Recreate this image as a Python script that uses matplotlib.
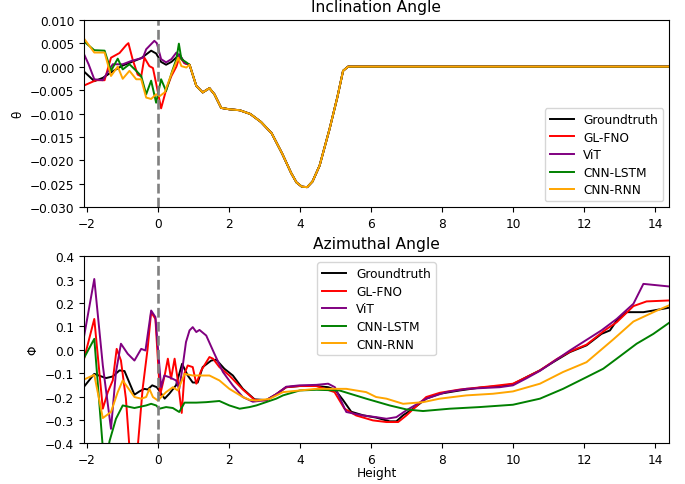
import numpy as np
import matplotlib
matplotlib.use("Agg")
import matplotlib.pyplot as plt

plt.rcParams['font.size'] = 8.7
plt.rcParams['axes.titlesize'] = 11.2
plt.rcParams['legend.labelspacing'] = 0.38

labels = ['Groundtruth', 'GL-FNO', 'ViT', 'CNN-LSTM', 'CNN-RNN']
colors = ['black', 'red', 'purple', 'green', 'orange']

# --- inclination angle (theta) ---
# shared part after x ~ 0.9 where all models agree
theta_tail_x = [0.89, 1.08, 1.26, 1.45, 1.59, 1.78, 2.01, 2.30, 2.60, 2.90, 3.20,
                3.50, 3.75, 3.90, 4.05, 4.20, 4.35, 4.55, 4.83, 5.05, 5.21, 5.35, 14.38]
theta_tail = [0.0004, -0.0041, -0.0055, -0.0046, -0.0059, -0.0088, -0.0091, -0.0093,
              -0.0101, -0.0118, -0.0142, -0.0186, -0.0227, -0.0247, -0.0256, -0.0257,
              -0.0245, -0.0211, -0.0133, -0.0065, -0.0009, 0.0, 0.0]

theta_gt_x = [-2.10, -1.79, -1.55, -1.27, -1.0, -0.80, -0.47, -0.19, -0.05, 0.09, 0.23, 0.38, 0.61, 0.75]
theta_gt = [-0.0009, -0.0031, -0.0024, -0.0010, 0.0002, 0.0008, 0.0018, 0.0034, 0.0028,
            0.0010, 0.0004, 0.0010, 0.0026, 0.0008]

theta_fno_x = [-2.10, -1.74, -1.50, -1.32, -1.08, -0.89, -0.83, -0.71, -0.57, -0.47, -0.38,
               -0.24, -0.14, -0.03, 0.09, 0.23, 0.38, 0.52, 0.61, 0.75]
theta_fno = [-0.0041, -0.0029, -0.0029, 0.0019, 0.0029, 0.0046, 0.0050, 0.0015, -0.0017,
             -0.0021, 0.0019, 0.0001, -0.0003, -0.0043, -0.0089, -0.0050, -0.0020, 0.0000,
             0.0021, 0.0007]

theta_vit_x = [-2.10, -1.95, -1.79, -1.55, -1.40, -1.27, -0.99, -0.75, -0.42, -0.33, -0.10,
               -0.03, 0.09, 0.23, 0.38, 0.52, 0.61, 0.75]
theta_vit = [0.0030, 0.0005, -0.0027, -0.0029, -0.0010, 0.0005, 0.0005, 0.0012, 0.0019,
             0.0037, 0.0055, 0.0050, 0.0016, 0.0009, 0.0016, 0.0030, 0.0023, 0.0008]

theta_lstm_x = [-2.10, -1.79, -1.50, -1.32, -1.13, -0.99, -0.80, -0.61, -0.47, -0.33, -0.19,
                -0.05, 0.09, 0.23, 0.40, 0.52, 0.59, 0.66, 0.80]
theta_lstm = [0.0055, 0.0035, 0.0034, -0.0009, 0.0017, -0.0006, 0.0005, -0.0009, -0.0020,
              -0.0059, -0.0030, -0.0077, -0.0027, -0.0052, -0.0010, 0.0016, 0.0049, 0.0016,
              0.0009]

theta_rnn_x = [-2.10, -1.79, -1.50, -1.32, -1.13, -0.99, -0.80, -0.61, -0.47, -0.33, -0.19,
               -0.05, 0.05, 0.19, 0.38, 0.57, 0.66, 0.80]
theta_rnn = [0.0062, 0.0030, 0.0030, -0.0020, 0.0000, -0.0026, -0.0009, -0.0027, -0.0027,
             -0.0066, -0.0069, -0.0059, -0.0063, -0.0055, -0.0016, 0.0019, 0.0001, -0.0002]

# --- azimuthal angle (phi) ---
phi_gt_x = [-2.09, -1.79, -1.46, -1.27, -1.08, -0.94, -0.66, -0.52, -0.38, -0.29, -0.16, -0.03,
            0.19, 0.32, 0.51, 0.68, 0.84, 0.98, 1.12, 1.26, 1.50, 1.64, 1.87, 2.11, 2.39, 2.72,
            3.05, 3.33, 3.61, 3.99, 4.46, 4.79, 4.98, 5.21, 5.44, 5.77, 6.14, 6.52, 6.71, 6.90,
            7.18, 7.55, 7.93, 8.49, 9.05, 9.62, 9.99, 10.37, 10.75, 11.12, 11.59, 12.06, 12.48,
            12.72, 12.91, 13.19, 13.66, 13.94, 14.38]
phi_gt = [-0.160, -0.103, -0.121, -0.114, -0.088, -0.091, -0.192, -0.178, -0.167, -0.170,
          -0.152, -0.160, -0.209, -0.188, -0.152, -0.060, -0.110, -0.140, -0.140, -0.074,
          -0.046, -0.042, -0.081, -0.110, -0.167, -0.212, -0.215, -0.190, -0.160, -0.155,
          -0.155, -0.160, -0.170, -0.215, -0.265, -0.280, -0.290, -0.306, -0.306, -0.280,
          -0.252, -0.209, -0.188, -0.174, -0.162, -0.155, -0.147, -0.117, -0.088, -0.053,
          -0.010, 0.019, 0.068, 0.083, 0.125, 0.161, 0.161, 0.168, 0.180]

phi_fno_x = [-2.09, -1.79, -1.55, -1.41, -1.27, -1.16, -1.04, -0.90, -0.80, -0.68, -0.57, -0.43,
             -0.29, -0.19, -0.07, 0.06, 0.19, 0.28, 0.37, 0.47, 0.56, 0.67, 0.75, 0.84, 0.98,
             1.08, 1.22, 1.45, 1.55, 1.73, 2.01, 2.39, 2.72, 3.05, 3.33, 3.61, 3.99, 4.46, 4.97,
             5.25, 5.58, 6.05, 6.43, 6.76, 6.99, 7.55, 7.93, 8.49, 9.43, 9.99, 10.37, 10.75,
             11.22, 11.59, 12.06, 12.57, 12.91, 13.38, 13.75, 14.38]
phi_fno = [-0.046, 0.132, -0.252, -0.181, -0.131, 0.004, -0.046, -0.209, -0.420, -0.450,
           -0.420, -0.167, 0.004, 0.161, 0.132, -0.195, -0.110, -0.038, -0.124, -0.038,
           -0.131, -0.270, -0.100, -0.067, -0.074, -0.145, -0.088, -0.031, -0.038, -0.074,
           -0.110, -0.170, -0.214, -0.217, -0.190, -0.160, -0.155, -0.155, -0.181, -0.252,
           -0.281, -0.302, -0.309, -0.309, -0.281, -0.202, -0.184, -0.170, -0.155, -0.145,
           -0.117, -0.088, -0.040, -0.008, 0.022, 0.083, 0.118, 0.187, 0.207, 0.211]

phi_vit_x = [-2.09, -1.79, -1.55, -1.32, -1.18, -1.04, -0.85, -0.66, -0.47, -0.35, -0.19, -0.07,
             0.09, 0.18, 0.32, 0.51, 0.60, 0.70, 0.79, 0.89, 0.98, 1.08, 1.17, 1.36, 1.59, 1.83,
             2.11, 2.39, 2.67, 3.05, 3.33, 3.61, 3.99, 4.46, 4.79, 4.98, 5.30, 5.77, 6.14, 6.43,
             6.71, 6.99, 7.55, 8.11, 8.68, 9.62, 9.99, 10.37, 10.75, 11.59, 12.48, 12.91, 13.38,
             13.66, 14.38]
phi_vit = [0.047, 0.303, -0.067, -0.338, -0.095, 0.026, -0.017, -0.046, 0.004, -0.003, 0.168,
           0.140, -0.160, -0.110, -0.117, -0.131, -0.167, -0.067, 0.033, 0.083, 0.097, 0.076,
           0.085, 0.061, -0.017, -0.095, -0.153, -0.202, -0.222, -0.215, -0.190, -0.158,
           -0.152, -0.150, -0.145, -0.160, -0.266, -0.281, -0.288, -0.295, -0.288, -0.259,
           -0.209, -0.181, -0.167, -0.160, -0.152, -0.122, -0.090, -0.003, 0.083, 0.132,
           0.197, 0.282, 0.271]

phi_lstm_x = [-2.09, -1.79, -1.55, -1.45, -1.36, -1.18, -0.99, -0.66, -0.33, -0.19, -0.05, 0.04,
              0.23, 0.42, 0.60, 0.75, 1.08, 1.36, 1.73, 2.01, 2.30, 2.58, 2.77, 3.33, 3.52,
              3.99, 4.46, 5.11, 5.86, 6.52, 6.99, 7.46, 8.21, 9.05, 9.99, 10.75, 11.40, 12.06,
              12.53, 12.91, 13.47, 13.94, 14.38]
phi_lstm = [-0.038, 0.047, -0.420, -0.460, -0.390, -0.295, -0.238, -0.249, -0.238, -0.231,
            -0.238, -0.252, -0.245, -0.249, -0.266, -0.226, -0.226, -0.224, -0.219, -0.238,
            -0.252, -0.245, -0.238, -0.209, -0.195, -0.174, -0.171, -0.174, -0.209, -0.238,
            -0.255, -0.262, -0.252, -0.245, -0.235, -0.209, -0.167, -0.117, -0.081, -0.038,
            0.026, 0.068, 0.115]

phi_rnn_x = [-2.09, -1.79, -1.55, -1.32, -1.13, -0.99, -0.66, -0.47, -0.33, -0.24, -0.14, 0.0,
             0.23, 0.42, 0.56, 0.75, 0.98, 1.45, 1.73, 2.01, 2.39, 2.58, 2.77, 3.14, 3.52, 4.46,
             5.30, 5.86, 6.14, 6.43, 6.90, 7.46, 7.93, 8.68, 9.43, 9.99, 10.75, 11.40, 12.06,
             12.81, 13.38, 14.00, 14.38]
phi_rnn = [-0.128, -0.107, -0.292, -0.266, -0.181, -0.131, -0.202, -0.209, -0.202, -0.167,
           -0.202, -0.217, -0.181, -0.160, -0.174, -0.103, -0.110, -0.110, -0.131, -0.167,
           -0.202, -0.214, -0.217, -0.210, -0.181, -0.167, -0.167, -0.181, -0.202, -0.209,
           -0.231, -0.224, -0.209, -0.195, -0.188, -0.178, -0.145, -0.095, -0.053, 0.044,
           0.121, 0.165, 0.190]

theta_series = [(theta_gt_x, theta_gt), (theta_fno_x, theta_fno), (theta_vit_x, theta_vit),
                (theta_lstm_x, theta_lstm), (theta_rnn_x, theta_rnn)]
phi_series = [(phi_gt_x, phi_gt), (phi_fno_x, phi_fno), (phi_vit_x, phi_vit),
              (phi_lstm_x, phi_lstm), (phi_rnn_x, phi_rnn)]

fig = plt.figure(figsize=(6.85, 4.85), dpi=100)
ax1 = fig.add_axes([0.1226, 0.5705, 0.854, 0.3868])
ax2 = fig.add_axes([0.1226, 0.0839, 0.854, 0.3856])

for (xs, ys), lab, c in zip(theta_series, labels, colors):
    ax1.plot(xs + theta_tail_x, ys + theta_tail, color=c, label=lab, linewidth=1.4)
ax1.axvline(0, color='gray', linestyle='--', linewidth=1.9)
ax1.set_xlim(-2.08, 14.38)
ax1.set_ylim(-0.030, 0.010)
ax1.set_yticks(np.arange(-0.030, 0.0101, 0.005))
ax1.set_xticks(range(-2, 15, 2))
ax1.set_ylabel('θ')
ax1.set_title('Inclination Angle')
ax1.legend(loc='lower right')

for (xs, ys), lab, c in zip(phi_series, labels, colors):
    ax2.plot(xs, ys, color=c, label=lab, linewidth=1.4)
ax2.axvline(0, color='gray', linestyle='--', linewidth=1.9)
ax2.set_xlim(-2.08, 14.38)
ax2.set_ylim(-0.4, 0.4)
ax2.set_yticks(np.arange(-0.4, 0.41, 0.1))
ax2.set_xticks(range(-2, 15, 2))
ax2.set_ylabel('Φ')
ax2.set_xlabel('Height', labelpad=0)
ax2.set_title('Azimuthal Angle')
ax2.legend(loc='upper center')

fig.savefig('out.png', dpi=100)
